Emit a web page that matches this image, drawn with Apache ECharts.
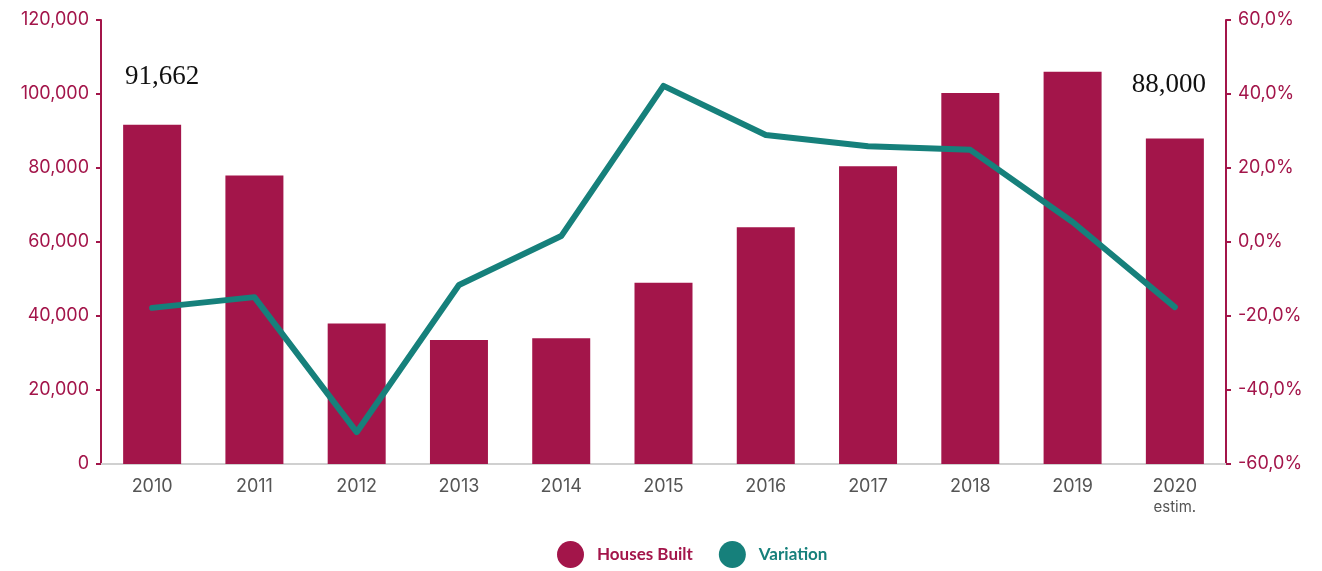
<!DOCTYPE html>
<html>
<head>
<meta charset="utf-8">
<script src="https://cdn.jsdelivr.net/npm/echarts@6/dist/echarts.min.js"></script>
<style>
  html, body { margin: 0; padding: 0; background: #fff; }
  #chart { width: 1322px; height: 571px; }
</style>
</head>
<body>
<div id="chart"></div>
<script>
// Houses built per year and year-on-year variation
const years = ['2010', '2011', '2012', '2013', '2014', '2015', '2016', '2017', '2018', '2019', '2020'];
const housesBuilt = [91662, 78000, 38000, 33500, 34000, 49000, 64000, 80500, 100300, 106000, 88000];
const variation = [-17.8, -14.9, -51.4, -11.6, 1.6, 42.2, 28.9, 25.9, 24.9, 5.4, -17.6];
const labelledYears = { '2010': [10, 2], '2020': [-6, -4] };
const leftTicks = [0, 20000, 40000, 60000, 80000, 100000, 120000];
const rightTicks = [-60, -40, -20, 0, 20, 40, 60];

const crimson = '#a3154a';
const teal = '#16807b';
const axisFont = 'Inter, "Open Sans", sans-serif';
const legendFont = 'Lato, "Noto Sans", sans-serif';

const chart = echarts.init(document.getElementById('chart'));

const barData = housesBuilt.map((v, i) => {
  const off = labelledYears[years[i]];
  if (off) {
    return {
      value: v,
      label: {
        show: true,
        position: 'top',
        distance: 36,
        offset: off,
        formatter: (p) => p.value.toLocaleString('en-US'),
        fontFamily: '"Liberation Serif", "DejaVu Serif", serif',
        fontSize: 27,
        color: '#111'
      }
    };
  }
  return v;
});

chart.setOption({
  animation: false,
  grid: { left: 101, right: 96, top: 20, bottom: 107, containLabel: false },
  legend: {
    top: 536,
    left: 552,
    icon: 'circle',
    itemWidth: 27,
    itemHeight: 27,
    itemGap: 26,
    textStyle: { fontFamily: legendFont, fontSize: 17, fontWeight: 'bold', padding: [0, 0, 0, 8] },
    data: [
      { name: 'Houses Built', textStyle: { color: crimson } },
      { name: 'Variation', textStyle: { color: teal } }
    ]
  },
  xAxis: {
    type: 'category',
    data: years,
    axisLine: { lineStyle: { color: '#d0d0d0', width: 2 } },
    axisTick: { show: false },
    axisLabel: {
      interval: 0,
      margin: 12,
      color: '#555',
      fontFamily: axisFont,
      fontSize: 18,
      lineHeight: 22,
      formatter: (v) => v === '2020' ? '2020\n{s|estim.}' : v,
      rich: { s: { fontSize: 15, color: '#555', fontFamily: axisFont, lineHeight: 18 } }
    }
  },
  yAxis: [
    {
      type: 'value',
      min: leftTicks[0],
      max: leftTicks[leftTicks.length - 1],
      interval: leftTicks[1] - leftTicks[0],
      splitLine: { show: false },
      axisLine: { show: true, lineStyle: { color: crimson, width: 2 } },
      axisTick: { show: true, length: 5, lineStyle: { color: crimson, width: 2 } },
      axisLabel: {
        margin: 12,
        color: crimson,
        fontFamily: axisFont,
        fontSize: 18,
        formatter: (v) => v.toLocaleString('en-US')
      }
    },
    {
      type: 'value',
      min: rightTicks[0],
      max: rightTicks[rightTicks.length - 1],
      interval: rightTicks[1] - rightTicks[0],
      splitLine: { show: false },
      axisLine: { show: true, lineStyle: { color: crimson, width: 2 } },
      axisTick: { show: true, length: 5, lineStyle: { color: crimson, width: 2 } },
      axisLabel: {
        margin: 12,
        color: crimson,
        fontFamily: axisFont,
        fontSize: 18,
        formatter: (v) => v.toFixed(1).replace('.', ',') + '%'
      }
    }
  ],
  series: [
    {
      name: 'Houses Built',
      type: 'bar',
      yAxisIndex: 0,
      barWidth: 58,
      itemStyle: { color: crimson },
      data: barData
    },
    {
      name: 'Variation',
      type: 'line',
      yAxisIndex: 1,
      data: variation,
      showSymbol: false,
      symbol: 'circle',
      itemStyle: { color: teal },
      lineStyle: { color: teal, width: 6, cap: 'round', join: 'round' },
      z: 5
    }
  ]
});
</script>
</body>
</html>
